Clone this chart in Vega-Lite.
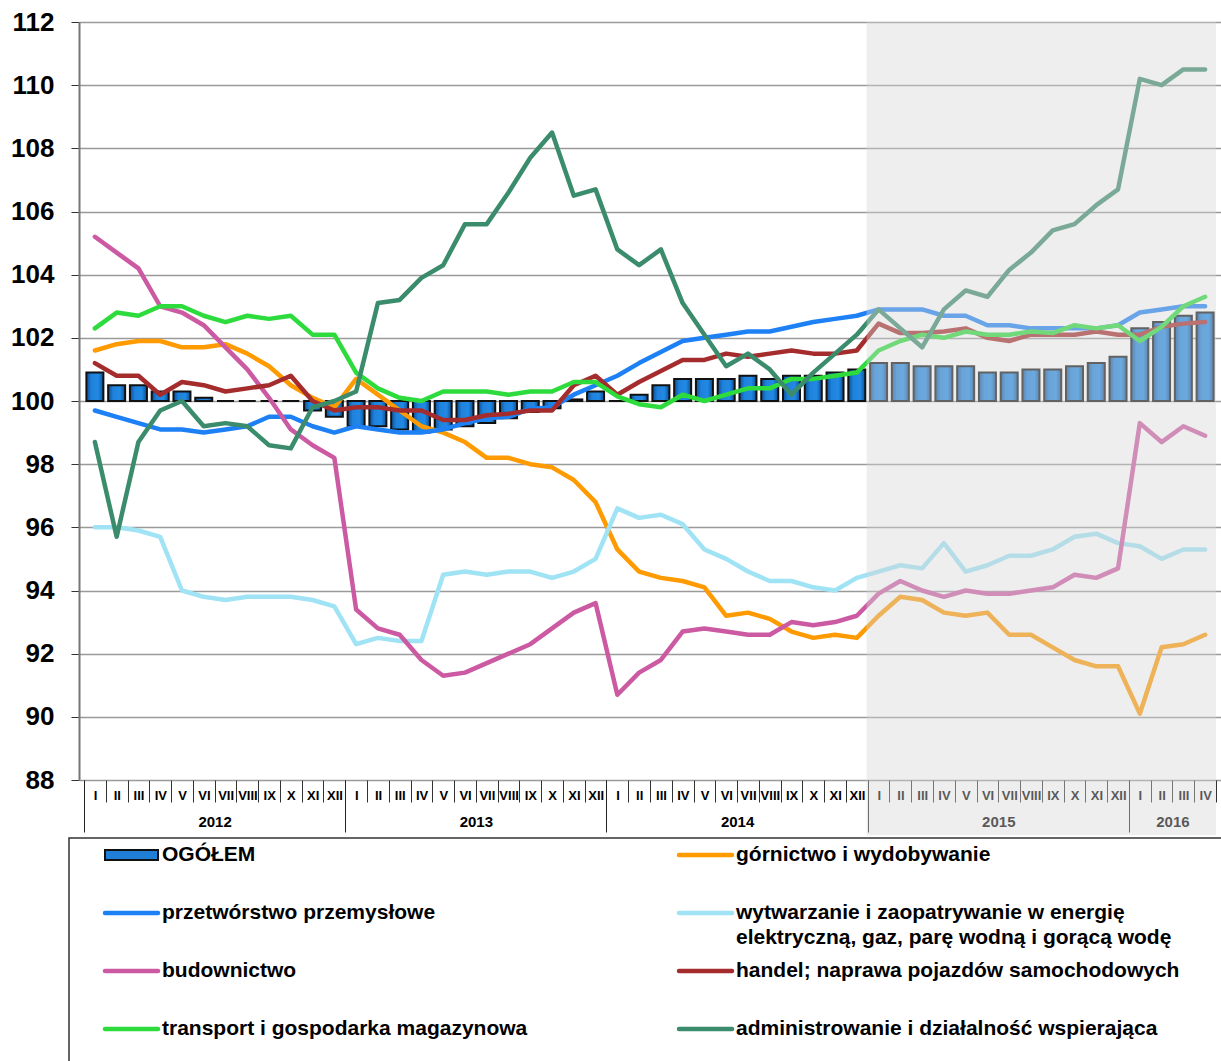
{
  "$schema": "https://vega.github.io/schema/vega-lite/v6.json",
  "autosize": {"type": "none"},
  "padding": {"left": 79, "top": 22, "right": 0, "bottom": 281},
  "width": 1142,
  "height": 758,
  "config": {"view": {"stroke": null}, "font": "Liberation Sans"},
  "data": {"values": [
    {"n":0,"okres":"2012-01","ogolem":100.9,"gornictwo":101.6,"przetworstwo":99.7,"energia":96.0,"budownictwo":105.2,"handel":101.2,"transport":102.3,"administrowanie":98.7},
    {"n":1,"okres":"2012-02","ogolem":100.5,"gornictwo":101.8,"przetworstwo":99.5,"energia":96.0,"budownictwo":104.7,"handel":100.8,"transport":102.8,"administrowanie":95.7},
    {"n":2,"okres":"2012-03","ogolem":100.5,"gornictwo":101.9,"przetworstwo":99.3,"energia":95.9,"budownictwo":104.2,"handel":100.8,"transport":102.7,"administrowanie":98.7},
    {"n":3,"okres":"2012-04","ogolem":100.3,"gornictwo":101.9,"przetworstwo":99.1,"energia":95.7,"budownictwo":103.0,"handel":100.2,"transport":103.0,"administrowanie":99.7},
    {"n":4,"okres":"2012-05","ogolem":100.3,"gornictwo":101.7,"przetworstwo":99.1,"energia":94.0,"budownictwo":102.8,"handel":100.6,"transport":103.0,"administrowanie":100.0},
    {"n":5,"okres":"2012-06","ogolem":100.1,"gornictwo":101.7,"przetworstwo":99.0,"energia":93.8,"budownictwo":102.4,"handel":100.5,"transport":102.7,"administrowanie":99.2},
    {"n":6,"okres":"2012-07","ogolem":100.0,"gornictwo":101.8,"przetworstwo":99.1,"energia":93.7,"budownictwo":101.7,"handel":100.3,"transport":102.5,"administrowanie":99.3},
    {"n":7,"okres":"2012-08","ogolem":100.0,"gornictwo":101.5,"przetworstwo":99.2,"energia":93.8,"budownictwo":101.0,"handel":100.4,"transport":102.7,"administrowanie":99.2},
    {"n":8,"okres":"2012-09","ogolem":100.0,"gornictwo":101.1,"przetworstwo":99.5,"energia":93.8,"budownictwo":100.1,"handel":100.5,"transport":102.6,"administrowanie":98.6},
    {"n":9,"okres":"2012-10","ogolem":100.0,"gornictwo":100.5,"przetworstwo":99.5,"energia":93.8,"budownictwo":99.1,"handel":100.8,"transport":102.7,"administrowanie":98.5},
    {"n":10,"okres":"2012-11","ogolem":99.7,"gornictwo":100.1,"przetworstwo":99.2,"energia":93.7,"budownictwo":98.6,"handel":100.0,"transport":102.1,"administrowanie":99.8},
    {"n":11,"okres":"2012-12","ogolem":99.5,"gornictwo":99.8,"przetworstwo":99.0,"energia":93.5,"budownictwo":98.2,"handel":99.7,"transport":102.1,"administrowanie":100.0},
    {"n":12,"okres":"2013-01","ogolem":99.2,"gornictwo":100.7,"przetworstwo":99.2,"energia":92.3,"budownictwo":93.4,"handel":99.8,"transport":100.9,"administrowanie":100.3},
    {"n":13,"okres":"2013-02","ogolem":99.2,"gornictwo":100.2,"przetworstwo":99.1,"energia":92.5,"budownictwo":92.8,"handel":99.8,"transport":100.4,"administrowanie":103.1},
    {"n":14,"okres":"2013-03","ogolem":99.1,"gornictwo":99.7,"przetworstwo":99.0,"energia":92.4,"budownictwo":92.6,"handel":99.7,"transport":100.1,"administrowanie":103.2},
    {"n":15,"okres":"2013-04","ogolem":99.0,"gornictwo":99.2,"przetworstwo":99.0,"energia":92.4,"budownictwo":91.8,"handel":99.7,"transport":100.0,"administrowanie":103.9},
    {"n":16,"okres":"2013-05","ogolem":99.1,"gornictwo":99.0,"przetworstwo":99.1,"energia":94.5,"budownictwo":91.3,"handel":99.4,"transport":100.3,"administrowanie":104.3},
    {"n":17,"okres":"2013-06","ogolem":99.2,"gornictwo":98.7,"przetworstwo":99.3,"energia":94.6,"budownictwo":91.4,"handel":99.4,"transport":100.3,"administrowanie":105.6},
    {"n":18,"okres":"2013-07","ogolem":99.3,"gornictwo":98.2,"przetworstwo":99.45,"energia":94.5,"budownictwo":91.7,"handel":99.55,"transport":100.3,"administrowanie":105.6},
    {"n":19,"okres":"2013-08","ogolem":99.45,"gornictwo":98.2,"przetworstwo":99.5,"energia":94.6,"budownictwo":92.0,"handel":99.6,"transport":100.2,"administrowanie":106.6},
    {"n":20,"okres":"2013-09","ogolem":99.65,"gornictwo":98.0,"przetworstwo":99.75,"energia":94.6,"budownictwo":92.3,"handel":99.7,"transport":100.3,"administrowanie":107.7},
    {"n":21,"okres":"2013-10","ogolem":99.77,"gornictwo":97.9,"przetworstwo":99.8,"energia":94.4,"budownictwo":92.8,"handel":99.7,"transport":100.3,"administrowanie":108.5},
    {"n":22,"okres":"2013-11","ogolem":100.05,"gornictwo":97.5,"przetworstwo":100.2,"energia":94.6,"budownictwo":93.3,"handel":100.5,"transport":100.6,"administrowanie":106.5},
    {"n":23,"okres":"2013-12","ogolem":100.3,"gornictwo":96.8,"przetworstwo":100.5,"energia":95.0,"budownictwo":93.6,"handel":100.8,"transport":100.6,"administrowanie":106.7},
    {"n":24,"okres":"2014-01","ogolem":100.0,"gornictwo":95.3,"przetworstwo":100.8,"energia":96.6,"budownictwo":90.7,"handel":100.2,"transport":100.15,"administrowanie":104.8},
    {"n":25,"okres":"2014-02","ogolem":100.2,"gornictwo":94.6,"przetworstwo":101.2,"energia":96.3,"budownictwo":91.4,"handel":100.6,"transport":99.9,"administrowanie":104.3},
    {"n":26,"okres":"2014-03","ogolem":100.5,"gornictwo":94.4,"przetworstwo":101.55,"energia":96.4,"budownictwo":91.8,"handel":100.95,"transport":99.8,"administrowanie":104.8},
    {"n":27,"okres":"2014-04","ogolem":100.7,"gornictwo":94.3,"przetworstwo":101.9,"energia":96.1,"budownictwo":92.7,"handel":101.3,"transport":100.2,"administrowanie":103.1},
    {"n":28,"okres":"2014-05","ogolem":100.7,"gornictwo":94.1,"przetworstwo":102.0,"energia":95.3,"budownictwo":92.8,"handel":101.3,"transport":100.0,"administrowanie":102.1},
    {"n":29,"okres":"2014-06","ogolem":100.7,"gornictwo":93.2,"przetworstwo":102.1,"energia":95.0,"budownictwo":92.7,"handel":101.5,"transport":100.2,"administrowanie":101.1},
    {"n":30,"okres":"2014-07","ogolem":100.8,"gornictwo":93.3,"przetworstwo":102.2,"energia":94.6,"budownictwo":92.6,"handel":101.4,"transport":100.4,"administrowanie":101.5},
    {"n":31,"okres":"2014-08","ogolem":100.7,"gornictwo":93.1,"przetworstwo":102.2,"energia":94.3,"budownictwo":92.6,"handel":101.5,"transport":100.4,"administrowanie":101.0},
    {"n":32,"okres":"2014-09","ogolem":100.8,"gornictwo":92.7,"przetworstwo":102.35,"energia":94.3,"budownictwo":93.0,"handel":101.6,"transport":100.7,"administrowanie":100.2},
    {"n":33,"okres":"2014-10","ogolem":100.8,"gornictwo":92.5,"przetworstwo":102.5,"energia":94.1,"budownictwo":92.9,"handel":101.5,"transport":100.7,"administrowanie":100.9},
    {"n":34,"okres":"2014-11","ogolem":100.9,"gornictwo":92.6,"przetworstwo":102.6,"energia":94.0,"budownictwo":93.0,"handel":101.5,"transport":100.8,"administrowanie":101.5},
    {"n":35,"okres":"2014-12","ogolem":101.0,"gornictwo":92.5,"przetworstwo":102.7,"energia":94.4,"budownictwo":93.2,"handel":101.6,"transport":100.9,"administrowanie":102.1},
    {"n":36,"okres":"2015-01","ogolem":101.2,"gornictwo":93.2,"przetworstwo":102.9,"energia":94.6,"budownictwo":93.9,"handel":102.45,"transport":101.6,"administrowanie":102.9},
    {"n":37,"okres":"2015-02","ogolem":101.2,"gornictwo":93.8,"przetworstwo":102.9,"energia":94.8,"budownictwo":94.3,"handel":102.15,"transport":101.9,"administrowanie":102.3},
    {"n":38,"okres":"2015-03","ogolem":101.1,"gornictwo":93.7,"przetworstwo":102.9,"energia":94.7,"budownictwo":94.0,"handel":102.15,"transport":102.1,"administrowanie":101.7},
    {"n":39,"okres":"2015-04","ogolem":101.1,"gornictwo":93.3,"przetworstwo":102.7,"energia":95.5,"budownictwo":93.8,"handel":102.2,"transport":102.0,"administrowanie":102.9},
    {"n":40,"okres":"2015-05","ogolem":101.1,"gornictwo":93.2,"przetworstwo":102.7,"energia":94.6,"budownictwo":94.0,"handel":102.3,"transport":102.2,"administrowanie":103.5},
    {"n":41,"okres":"2015-06","ogolem":100.9,"gornictwo":93.3,"przetworstwo":102.4,"energia":94.8,"budownictwo":93.9,"handel":102.0,"transport":102.1,"administrowanie":103.3},
    {"n":42,"okres":"2015-07","ogolem":100.9,"gornictwo":92.6,"przetworstwo":102.4,"energia":95.1,"budownictwo":93.9,"handel":101.9,"transport":102.1,"administrowanie":104.15},
    {"n":43,"okres":"2015-08","ogolem":101.0,"gornictwo":92.6,"przetworstwo":102.3,"energia":95.1,"budownictwo":94.0,"handel":102.1,"transport":102.2,"administrowanie":104.7},
    {"n":44,"okres":"2015-09","ogolem":101.0,"gornictwo":92.2,"przetworstwo":102.3,"energia":95.3,"budownictwo":94.1,"handel":102.1,"transport":102.15,"administrowanie":105.4},
    {"n":45,"okres":"2015-10","ogolem":101.1,"gornictwo":91.8,"przetworstwo":102.3,"energia":95.7,"budownictwo":94.5,"handel":102.1,"transport":102.4,"administrowanie":105.6},
    {"n":46,"okres":"2015-11","ogolem":101.2,"gornictwo":91.6,"przetworstwo":102.3,"energia":95.8,"budownictwo":94.4,"handel":102.2,"transport":102.3,"administrowanie":106.2},
    {"n":47,"okres":"2015-12","ogolem":101.4,"gornictwo":91.6,"przetworstwo":102.4,"energia":95.5,"budownictwo":94.7,"handel":102.1,"transport":102.4,"administrowanie":106.7},
    {"n":48,"okres":"2016-01","ogolem":102.3,"gornictwo":90.1,"przetworstwo":102.8,"energia":95.4,"budownictwo":99.3,"handel":102.1,"transport":101.9,"administrowanie":110.2},
    {"n":49,"okres":"2016-02","ogolem":102.5,"gornictwo":92.2,"przetworstwo":102.9,"energia":95.0,"budownictwo":98.7,"handel":102.35,"transport":102.35,"administrowanie":110.0},
    {"n":50,"okres":"2016-03","ogolem":102.7,"gornictwo":92.3,"przetworstwo":103.0,"energia":95.3,"budownictwo":99.2,"handel":102.45,"transport":103.0,"administrowanie":110.5},
    {"n":51,"okres":"2016-04","ogolem":102.8,"gornictwo":92.6,"przetworstwo":103.0,"energia":95.3,"budownictwo":98.9,"handel":102.5,"transport":103.3,"administrowanie":110.5}
  ]},
  "resolve": {"scale": {"x": "shared", "y": "shared"}, "axis": {"x": "independent"}},
  "layer": [
    {
      "mark": {"type": "bar", "width": 17,
        "fill": {"gradient": "linear", "x1": 0, "x2": 1, "y1": 0, "y2": 0,
          "stops": [{"offset": 0, "color": "#0c4f95"}, {"offset": 0.3, "color": "#1f82dc"}, {"offset": 0.7, "color": "#2189e4"}, {"offset": 1, "color": "#0c4f95"}]},
        "stroke": "#111111", "strokeWidth": 2},
      "encoding": {
        "x": {"field": "n", "type": "quantitative",
          "scale": {"domain": [-0.5, 51.5], "nice": false, "zero": false},
          "axis": {"orient": "bottom", "title": null, "grid": false, "domain": false,
            "values": [-0.5,0.5,1.5,2.5,3.5,4.5,5.5,6.5,7.5,8.5,9.5,10.5,11.5,12.5,13.5,14.5,15.5,16.5,17.5,18.5,19.5,20.5,21.5,22.5,23.5,24.5,25.5,26.5,27.5,28.5,29.5,30.5,31.5,32.5,33.5,34.5,35.5,36.5,37.5,38.5,39.5,40.5,41.5,42.5,43.5,44.5,45.5,46.5,47.5,48.5,49.5,50.5,51.5],
            "tickSize": 22, "tickColor": "#333333", "tickWidth": 1,
            "labelExpr": "datum.value < 51 ? ['I','II','III','IV','V','VI','VII','VIII','IX','X','XI','XII'][(datum.value + 0.5) % 12] : ''",
            "labelOffset": 11, "labelPadding": -7, "labelBaseline": "middle",
            "labelFont": "Liberation Sans", "labelFontSize": 13, "labelFontWeight": "bold", "labelColor": "#000000",
            "labelOverlap": false, "labelBound": false, "labelFlush": false}},
        "y": {"field": "ogolem", "type": "quantitative",
          "scale": {"domain": [88, 112], "nice": false, "zero": false},
          "axis": {"title": null, "values": [88,90,92,94,96,98,100,102,104,106,108,110,112],
            "grid": true, "gridColor": "#9a9a9a", "gridWidth": 1.5,
            "tickSize": 8, "tickColor": "#333333", "domainColor": "#777777", "domainWidth": 2,
            "labelFont": "Liberation Sans", "labelFontSize": 26, "labelFontWeight": "bold", "labelColor": "#000000", "labelPadding": 17}},
        "y2": {"datum": 100}
      }
    },
    {
      "transform": [{"fold": ["gornictwo", "przetworstwo", "energia", "budownictwo", "handel", "transport", "administrowanie"], "as": ["series", "value"]}],
      "mark": {"type": "line", "strokeWidth": 4.5, "strokeJoin": "round", "strokeCap": "round"},
      "encoding": {
        "x": {"field": "n", "type": "quantitative",
          "axis": {"orient": "bottom", "title": null, "grid": false, "domain": false, "labels": false,
            "values": [-0.5, 11.5, 23.5, 35.5, 47.5], "tickSize": 52, "tickColor": "#222222", "tickWidth": 1}},
        "y": {"field": "value", "type": "quantitative", "axis": {"title": null}},
        "color": {"field": "series", "type": "nominal",
          "scale": {"domain": ["ogolem", "przetworstwo", "budownictwo", "transport", "gornictwo", "energia", "handel", "administrowanie"],
            "range": ["#111111", "#1e80f5", "#cc5aa2", "#2ddc3c", "#ff9a00", "#9fe3f5", "#a52c2c", "#3a8c6c"]},
          "legend": {"orient": "none", "legendX": -10, "legendY": 816, "columns": 2, "columnPadding": 0, "rowPadding": 7,
            "clipHeight": 50, "padding": 7, "strokeColor": "#333333", "title": null,
            "symbolType": "stroke", "symbolSize": 2809, "symbolStrokeWidth": 4,
            "labelFont": "Liberation Sans", "labelFontSize": 21, "labelFontWeight": "bold", "labelColor": "#000000",
            "labelLimit": 700, "labelBaseline": "middle",
            "labelExpr": "{'ogolem': 'OGÓŁEM', 'gornictwo': 'górnictwo i wydobywanie', 'przetworstwo': 'przetwórstwo przemysłowe', 'energia': ['wytwarzanie i zaopatrywanie w energię', 'elektryczną, gaz, parę wodną i gorącą wodę'], 'budownictwo': 'budownictwo', 'handel': 'handel; naprawa pojazdów samochodowych', 'transport': 'transport i gospodarka magazynowa', 'administrowanie': 'administrowanie i działalność wspierająca'}[datum.value]",
            "encode": {
              "entries": {"update": {"width": {"value": 574}}},
              "symbols": {"update": {
                "x": {"value": 55.5}, "y": {"value": 10},
                "shape": {"signal": "datum.value == 'ogolem' ? 'M-1,-0.19H1V0.19H-1Z' : 'stroke'"},
                "fill": {"signal": "datum.value == 'ogolem' ? '#1f7fd6' : 'transparent'"},
                "strokeWidth": {"signal": "datum.value == 'ogolem' ? 2 : 4.5"},
                "strokeCap": {"value": "round"},
                "opacity": {"value": 1}}},
              "labels": {"update": {"x": {"value": 86}, "y": {"value": 10}, "lineHeight": {"value": 25}}},
              "legend": {"update": {"strokeWidth": {"value": 1.5}}}
            }}}
      }
    },
    {
      "data": {"values": [{"okres": "2015-01 – 2016-04"}]},
      "mark": {"type": "rect", "color": "#d6d6d6", "opacity": 0.41},
      "encoding": {
        "x": {"datum": 35.45, "type": "quantitative",
          "axis": {"orient": "bottom", "title": null, "grid": false, "domain": false, "ticks": false, "tickSize": 0,
            "values": [5.5, 17.5, 29.5, 41.5, 49.5],
            "labelExpr": "'' + (2012 + floor(datum.value / 12))",
            "labelPadding": 41, "labelBaseline": "middle",
            "labelFont": "Liberation Sans", "labelFontSize": 15, "labelFontWeight": "bold", "labelColor": "#000000",
            "labelOverlap": false, "labelBound": false, "labelFlush": false}},
        "x2": {"datum": 51.5},
        "y": {"datum": 112, "type": "quantitative", "axis": {"title": null}},
        "y2": {"datum": 86.25}
      }
    }
  ]
}
